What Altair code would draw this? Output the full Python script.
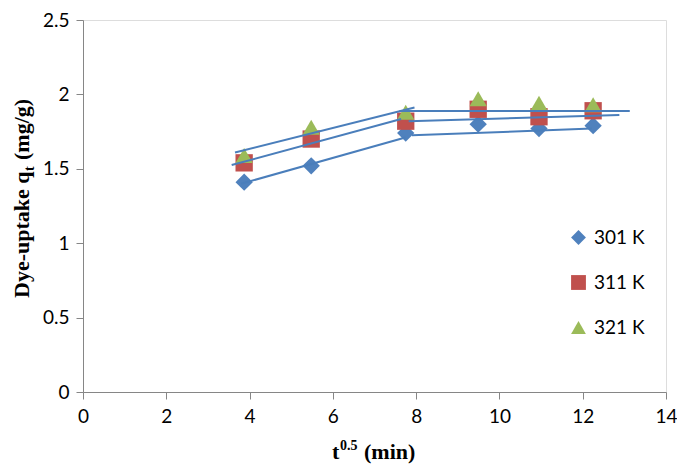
import altair as alt
import pandas as pd

# ---- data ----
t_sqrt = [3.87, 5.48, 7.75, 9.49, 10.95, 12.25]
series_names = ["301 K", "311 K", "321 K"]
q_301 = [1.41, 1.52, 1.74, 1.80, 1.77, 1.79]
q_311 = [1.54, 1.70, 1.82, 1.90, 1.85, 1.89]
q_321 = [1.59, 1.78, 1.88, 1.97, 1.94, 1.93]

# piecewise linear fits (two segments per series): x0, y0, x1, y1
seg_names = ["301a", "301b", "311a", "311b", "321a", "321b"]
seg_x0 = [3.80, 7.90, 3.57, 7.82, 3.65, 7.60]
seg_y0 = [1.40, 1.725, 1.525, 1.82, 1.609, 1.888]
seg_x1 = [7.74, 12.22, 7.64, 12.88, 7.96, 13.13]
seg_y1 = [1.71, 1.77, 1.835, 1.861, 1.912, 1.888]

x_ticks = [0, 2, 4, 6, 8, 10, 12, 14]
y_ticks = [0, 0.5, 1, 1.5, 2, 2.5]

x_title_main, x_title_sup, x_title_rest = "t", "0.5", "(min)"
y_title_main, y_title_sub, y_title_rest = "Dye-uptake q", "t", "(mg/g)"

colors = ["#4F81BD", "#C0504D", "#9BBB59"]
shapes = ["diamond", "square", "triangle-up"]

# ---- tables ----
rows = []
for name, vals in zip(series_names, [q_301, q_311, q_321]):
    for x, y in zip(t_sqrt, vals):
        rows.append({"series": name, "x": x, "q": y})
pts = pd.DataFrame(rows)

seg_rows = []
for i, s in enumerate(seg_names):
    seg_rows.append({"seg": s, "x": seg_x0[i], "q": seg_y0[i]})
    seg_rows.append({"seg": s, "x": seg_x1[i], "q": seg_y1[i]})
segs = pd.DataFrame(seg_rows)

W, H = 583, 372
xscale = alt.Scale(domain=[0, 14], nice=False, zero=True)
yscale = alt.Scale(domain=[0, 2.5], nice=False, zero=True)

axis_common = dict(
    domainColor="#868686", tickColor="#868686", tickSize=7, grid=False,
    labelFont="Lato", labelFontSize=19, labelColor="#000000", title=None,
    labelFlush=False, labelOverlap=False,
)

points = alt.Chart(pts).mark_point(filled=True, size=300, opacity=1, strokeWidth=0).encode(
    x=alt.X("x:Q", scale=xscale, axis=alt.Axis(values=x_ticks, labelPadding=8, **axis_common)),
    y=alt.Y("q:Q", scale=yscale,
            axis=alt.Axis(values=y_ticks, format="~g", labelPadding=7, **axis_common)),
    color=alt.Color("series:N", scale=alt.Scale(domain=series_names, range=colors),
                    legend=alt.Legend(orient="none", legendX=486, legendY=208, title=None,
                                      labelFont="Lato", labelFontSize=19, labelColor="#000000",
                                      symbolSize=220, symbolStrokeWidth=0, rowPadding=25,
                                      labelOffset=6, padding=0)),
    shape=alt.Shape("series:N", scale=alt.Scale(domain=series_names, range=shapes)),
    order=alt.Order("series:N"),
)

lines = alt.Chart(segs).mark_line(color="#4A7EBB", strokeWidth=2).encode(
    x=alt.X("x:Q", scale=xscale),
    y=alt.Y("q:Q", scale=yscale),
    detail="seg:N",
)

def label(txt, x, y, size, angle=0, align="left"):
    return alt.Chart(pd.DataFrame({"t": [txt]})).mark_text(
        font="Liberation Serif", fontWeight="bold", fontSize=size, align=align,
        baseline="alphabetic", angle=angle, color="#000000"
    ).encode(text="t:N", x=alt.value(x), y=alt.value(y))

titles = (
    label(x_title_main, 249, 439, 22)
    + label(x_title_sup, 257, 430, 14)
    + label(x_title_rest, 281, 439, 22)
    + label(y_title_main, -54, 278, 22, angle=270)
    + label(y_title_sub, -49, 151, 14, angle=270)
    + label(y_title_rest, -54, 140, 22, angle=270)
)

chart = alt.layer(points, lines, titles).properties(
    width=W, height=H,
    autosize=alt.AutoSizeParams(type="none"),
    padding={"left": 75, "top": 12, "right": 11, "bottom": 73},
).configure_view(stroke=None).configure(background="#ffffff")

chart.save("out.html", embed_options={"renderer": "svg", "actions": False})
